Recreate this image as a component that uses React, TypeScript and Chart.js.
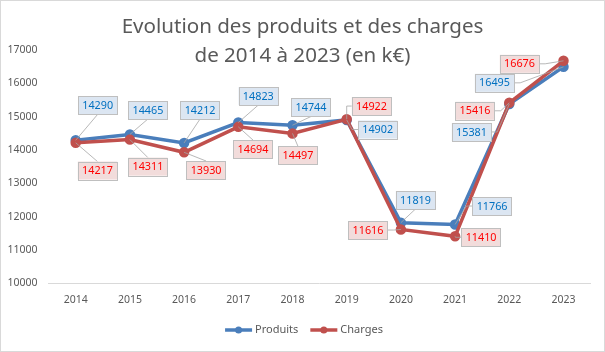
import React, { useEffect, useRef } from "react";
import { Chart, registerables } from "chart.js";

Chart.register(...registerables);

// ---------- data ----------
const years = ["2014", "2015", "2016", "2017", "2018", "2019", "2020", "2021", "2022", "2023"];
const produits = [14290, 14465, 14212, 14823, 14744, 14902, 11819, 11766, 15381, 16495];
const charges = [14217, 14311, 13930, 14694, 14497, 14922, 11616, 11410, 15416, 16676];
const yMin = 10000;
const yMax = 17000;
const yStep = 1000;
const titleLines = ["Evolution des produits et des charges", "de 2014 à 2023 (en k€)"];
const seriesNames = ["Produits", "Charges"];

// ---------- label placement (pixel offsets of label centre from its point) ----------
const produitsLabelOffsets = [
  [22, -35], [18, -24.5], [16, -33], [20, -26.5], [18.5, -17.7],
  [31, 9.6], [14.6, -22.7], [37, -18.4], [-37.8, 28], [-69, 16],
];
const chargesLabelOffsets = [
  [21.8, 27.8], [18, 27], [22, 17.7], [14.7, 22.2], [5.5, 22],
  [24.8, -13.2], [-32.9, 0.6], [26, 1], [-34.3, 8], [-44, 3],
];

// ---------- styles ----------
const FONT = '"Noto Sans", "Liberation Sans", sans-serif';
const GREY_TEXT = "#595959";
const BLUE = "#4a7ebb";
const RED = "#c0504d";
const labelStyles = [
  { fill: "#dce6f2", text: "#0070c0", offsets: produitsLabelOffsets },
  { fill: "#f2dcdb", text: "#ff0000", offsets: chargesLabelOffsets },
];

const decorPlugin = {
  id: "decor",
  beforeDraw(chart: any) {
    const ctx = chart.ctx;
    ctx.save();
    ctx.fillStyle = "#ffffff";
    ctx.fillRect(0, 0, chart.width, chart.height);
    ctx.strokeStyle = "#d9d9d9";
    ctx.lineWidth = 1;
    ctx.strokeRect(0.5, 0.5, chart.width - 1, chart.height - 1);
    ctx.restore();
  },
  afterDatasetsDraw(chart: any) {
    const ctx = chart.ctx;
    ctx.save();
    ctx.font = `10.8px ${FONT}`;
    const values = [produits, charges];
    labelStyles.forEach((st, di) => {
      const meta = chart.getDatasetMeta(di);
      meta.data.forEach((pt: any, j: number) => {
        const [dx, dy] = st.offsets[j];
        const cx = pt.x + dx;
        const cy = pt.y + dy;
        const txt = String(values[di][j]);
        const tw = ctx.measureText(txt).width;
        const w = tw + 8.5;
        const h = 18;
        const left = cx - w / 2;
        const top = cy - h / 2;
        // leader line
        const hgap = Math.abs(dx) - w / 2;
        ctx.strokeStyle = "#a6a6a6";
        ctx.lineWidth = 0.8;
        ctx.beginPath();
        if (hgap > 4) {
          const sign = dx > 0 ? -1 : 1;
          const ax = dx > 0 ? left : left + w;
          const stub = Math.min(6, Math.abs(pt.x - ax));
          ctx.moveTo(ax, cy);
          ctx.lineTo(ax + sign * stub, cy);
          ctx.lineTo(pt.x, pt.y);
        } else {
          const ay = dy > 0 ? top : top + h;
          ctx.moveTo(cx, ay);
          ctx.lineTo(pt.x, pt.y);
        }
        ctx.stroke();
        // box
        ctx.fillStyle = st.fill;
        ctx.fillRect(left, top, w, h);
        ctx.strokeStyle = "#bfbfbf";
        ctx.lineWidth = 1;
        ctx.strokeRect(Math.round(left) + 0.5, Math.round(top) + 0.5, Math.round(w), Math.round(h));
        ctx.fillStyle = st.text;
        ctx.textAlign = "center";
        ctx.textBaseline = "middle";
        ctx.fillText(txt, cx, cy + 0.5);
      });
    });
    ctx.restore();
  },
  afterDraw(chart: any) {
    const ctx = chart.ctx;
    ctx.save();
    // title
    ctx.font = `20px ${FONT}`;
    const w1 = ctx.measureText(titleLines[0]).width;
    const size = (20 * 362) / w1;
    ctx.font = `${size}px ${FONT}`;
    ctx.fillStyle = GREY_TEXT;
    ctx.textAlign = "center";
    ctx.textBaseline = "alphabetic";
    ctx.fillText(titleLines[0], 302.5, 33);
    ctx.fillText(titleLines[1], 302.5, 62);
    // legend
    ctx.font = `11px ${FONT}`;
    const colors = [BLUE, RED];
    const lineLen = 27;
    const gap = 3;
    const itemGap = 12;
    const widths = seriesNames.map((n) => lineLen + gap + ctx.measureText(n).width);
    const total = widths[0] + widths[1] + itemGap;
    let x = 304 - total / 2;
    const y = 330;
    seriesNames.forEach((n, i) => {
      ctx.strokeStyle = colors[i];
      ctx.lineWidth = 3.5;
      ctx.beginPath();
      ctx.moveTo(x, y);
      ctx.lineTo(x + lineLen, y);
      ctx.stroke();
      ctx.fillStyle = colors[i];
      ctx.beginPath();
      ctx.arc(x + lineLen / 2, y, 3.5, 0, Math.PI * 2);
      ctx.fill();
      ctx.fillStyle = GREY_TEXT;
      ctx.textAlign = "left";
      ctx.textBaseline = "middle";
      ctx.fillText(n, x + lineLen + gap, y);
      x += widths[i] + itemGap;
    });
    ctx.restore();
  },
};

export default function App() {
  const ref = useRef<HTMLCanvasElement | null>(null);
  useEffect(() => {
    if (!ref.current) return;
    const chart = new Chart(ref.current, {
      type: "line",
      data: {
        labels: years,
        datasets: [
          {
            label: seriesNames[0],
            data: produits,
            borderColor: BLUE,
            backgroundColor: BLUE,
            pointBackgroundColor: BLUE,
            pointBorderColor: BLUE,
            borderWidth: 3.5,
            pointRadius: 3.5,
            tension: 0,
            order: 1,
          },
          {
            label: seriesNames[1],
            data: charges,
            borderColor: RED,
            backgroundColor: RED,
            pointBackgroundColor: RED,
            pointBorderColor: RED,
            borderWidth: 3.5,
            pointRadius: 3.5,
            tension: 0,
            order: 0,
          },
        ],
      },
      options: {
        responsive: false,
        animation: false,
        layout: { padding: { top: 50, right: 14.4, bottom: 38, left: 0 } },
        plugins: {
          legend: { display: false },
          title: { display: false },
          tooltip: { enabled: false },
        },
        scales: {
          x: {
            type: "category",
            offset: true,
            grid: { display: false, drawTicks: false },
            border: { display: true, color: "#d9d9d9", width: 1 },
            ticks: { color: GREY_TEXT, font: { family: FONT, size: 10.5 }, padding: 10, maxRotation: 0 },
            afterFit: (s: any) => {
              s.height = 30.7;
            },
          },
          y: {
            min: yMin,
            max: yMax,
            grid: { display: false, drawTicks: false },
            border: { display: false },
            ticks: {
              stepSize: yStep,
              color: GREY_TEXT,
              font: { family: FONT, size: 10.5 },
              padding: 11,
              callback: (v: any) => String(v),
            },
            afterFit: (s: any) => {
              s.width = 48.6;
            },
          },
        },
      },
      plugins: [decorPlugin],
    });
    return () => chart.destroy();
  }, []);
  return (
    <div style={{ position: "absolute", left: 0, top: 0, width: 605, height: 352 }}>
      <canvas ref={ref} width={605} height={352} style={{ display: "block" }} />
    </div>
  );
}
